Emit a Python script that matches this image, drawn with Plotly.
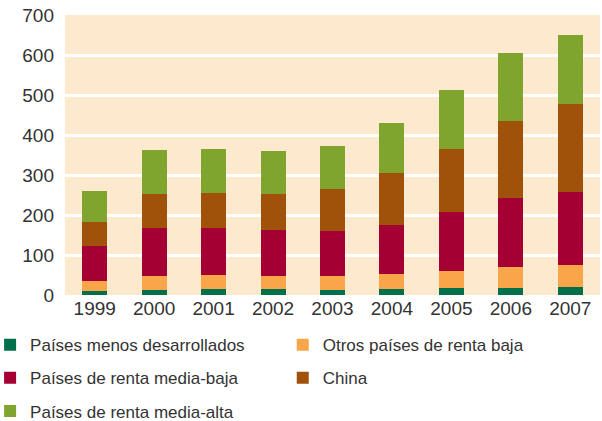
import plotly.graph_objects as go

years = ["1999", "2000", "2001", "2002", "2003", "2004", "2005", "2006", "2007"]
ldc = [10, 12.5, 15, 15, 12.5, 15, 17.5, 17.5, 20]
other_low = [25, 35, 35, 32.5, 35, 37.5, 42.5, 52.5, 55]
lower_middle = [87.5, 120, 117.5, 115, 112.5, 122.5, 147.5, 172.5, 182.5]
china = [60, 85, 87.5, 90, 105, 130, 157.5, 192.5, 220]
upper_middle = [77.5, 110, 110, 107.5, 107.5, 125, 147.5, 170, 172.5]

names = ["Países menos desarrollados", "Otros países de renta baja",
         "Países de renta media-baja", "China", "Países de renta media-alta"]
colors = ["#00704A", "#F9A54A", "#A50034", "#A0520A", "#7FA52F"]
series = [ldc, other_low, lower_middle, china, upper_middle]
legends = ["legend", "legend2", "legend", "legend2", "legend"]

fig = go.Figure()
for i, (n, c, s, lg) in enumerate(zip(names, colors, series, legends)):
    fig.add_trace(go.Bar(x=years, y=s, name=n, marker=dict(color=c, line=dict(width=0)),
                         legend=lg, legendgroup=f"g{i}"))

FAM = "Liberation Sans, Arial, sans-serif"
font = dict(family=FAM, size=17, color="#333333")
leg_common = dict(orientation="v", traceorder="grouped", tracegroupgap=8,
                  font=font, bgcolor="rgba(0,0,0,0)", yanchor="top", xanchor="left")

fig.update_layout(
    width=602, height=421,
    margin=dict(l=65, r=2, t=15, b=126, autoexpand=False),
    barmode="stack", bargap=0.58,
    plot_bgcolor="#FDEACE", paper_bgcolor="#FFFFFF",
    showlegend=True,
    legend=dict(x=-0.14, y=-0.115, **leg_common),
    legend2=dict(x=0.407, y=-0.115, **leg_common),
    xaxis=dict(tickfont=dict(family=FAM, size=19, color="#333333"),
               showgrid=False, ticks="", showline=False),
    yaxis=dict(range=[0, 700], dtick=100, tickfont=dict(family=FAM, size=19, color="#333333"),
               gridcolor="#FFFFFF", gridwidth=2.5, zeroline=False, showline=False, ticks="",
               ticklabelstandoff=10),
)
fig.write_html("out.html", config={"displayModeBar": False},
               post_script="document.body.style.margin='0';document.body.style.overflow='hidden';")
